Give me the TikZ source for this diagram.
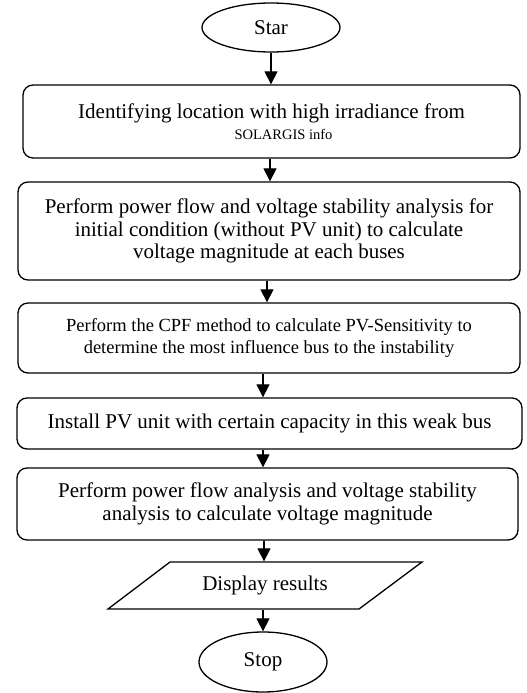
\documentclass[tikz,border=0pt]{standalone}
\usepackage{fontspec}
\setmainfont{Liberation Serif}
\usetikzlibrary{arrows.meta,shapes.geometric,calc}
\begin{document}
\begin{tikzpicture}[x=1pt,y=-1pt,
  line width=1.3pt,
  every node/.style={font=\fontsize{21}{22.8}\selectfont, inner sep=0pt, align=center},
  procbox/.style={draw, rounded corners=10pt},
  term/.style={draw, ellipse},
  arr/.style={-{Triangle[width=13pt,length=13pt]}, line width=1.2pt}]
\useasboundingbox (0,0) rectangle (527,693);
\node[term, minimum width=138pt, minimum height=49pt] (start) at (271,27.5) {Star};
\node[procbox, minimum width=497pt, minimum height=73pt] (b1) at (271.5,121.5)
  {Identifying location with high irradiance from\\[-2pt] \hspace*{24pt}{\fontsize{14.5}{17}\selectfont SOLARGIS info}};
\node[procbox, minimum width=502pt, minimum height=98pt] (b2) at (269,231)
  {Perform power flow and voltage stability analysis for\\ initial condition (without PV unit) to calculate\\ voltage magnitude at each buses};
\node[procbox, minimum width=502pt, minimum height=70pt, font=\fontsize{18.5}{22}\selectfont] (b3) at (269,338)
  {Perform the CPF method to calculate PV-Sensitivity to\\ determine the most influence bus to the instability};
\node[procbox, minimum width=505pt, minimum height=51pt] (b4) at (269.5,423.5)
  {Install PV unit with certain capacity in this weak bus};
\node[procbox, minimum width=501pt, minimum height=72pt] (b5) at (267.5,504)
  {Perform power flow analysis and voltage stability\\ analysis to calculate voltage magnitude};
\node[minimum width=190pt, minimum height=47pt] (disp) at (265,585.5) {Display results};
\draw ($(disp.center)+(-95,-23.5)$) -- ++(252,0) -- ++(-63,47) -- ++(-251,0) -- cycle;
\node[term, minimum width=128pt, minimum height=60pt] (stop) at (263,662) {Stop};
\draw[arr] (start) -- (start |- b1.north);
\draw[arr] (b1.south -| 270,0) -- (b2.north -| 270,0);
\draw[arr] (b2.south -| 267,0) -- (b3.north -| 267,0);
\draw[arr] (b3.south -| 263,0) -- (b4.north -| 263,0);
\draw[arr] (b4.south -| 263,0) -- (b5.north -| 263,0);
\draw[arr] (b5.south -| 264,0) -- (disp.north -| 264,0);
\draw[arr] (disp.south -| 263,0) -- (stop);
\end{tikzpicture}
\end{document}
